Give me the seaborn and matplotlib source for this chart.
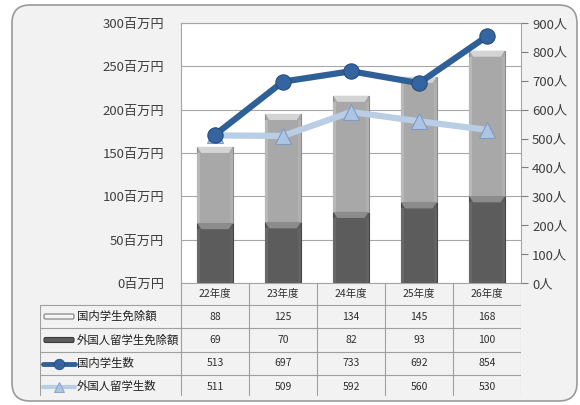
import numpy as np
import pandas as pd
import matplotlib
matplotlib.use("Agg")
import matplotlib.pyplot as plt
from matplotlib.patches import FancyBboxPatch, Polygon, Rectangle
from matplotlib.lines import Line2D
import seaborn as sns

sns.set_theme(style="white")
plt.rcParams["font.family"] = ["Noto Sans CJK JP", "DejaVu Sans"]

# ---- data ----
years = ["22年度", "23年度", "24年度", "25年度", "26年度"]
domestic_exempt = [88, 125, 134, 145, 168]      # 国内学生免除額 (百万円)
foreign_exempt = [69, 70, 82, 93, 100]          # 外国人留学生免除額 (百万円)
domestic_students = [513, 697, 733, 692, 854]   # 国内学生数 (人)
foreign_students = [511, 509, 592, 560, 530]    # 外国人留学生数 (人)

series_names = ["国内学生免除額", "外国人留学生免除額", "国内学生数", "外国人留学生数"]
series_values = [domestic_exempt, foreign_exempt, domestic_students, foreign_students]

LIGHT_BAR = "#a8a8a8"
DARK_BAR = "#5c5c5c"
DARK_LINE = "#2f5f97"
LIGHT_LINE = "#b9cde5"
GRID = "#a6a6a6"
TEXT = "#404040"

W, H = 580, 405
fig = plt.figure(figsize=(W / 100, H / 100), dpi=100)
fig.patch.set_facecolor("white")

# rounded chart frame
frame = FancyBboxPatch((12 / 100, 4 / 100), 565 / 100, 396 / 100,
                       boxstyle="round,pad=0,rounding_size=0.18",
                       transform=fig.dpi_scale_trans, facecolor="#f2f2f2",
                       edgecolor="#9a9a9a", linewidth=1.2, zorder=-5)
fig.patches.append(frame)

px_l, px_r, px_t, px_b = 181, 521, 23, 283
ax = fig.add_axes([px_l / W, 1 - px_b / H, (px_r - px_l) / W, (px_b - px_t) / H])
ax.set_facecolor("white")

df = pd.DataFrame({"year": years,
                   "domestic": domestic_exempt,
                   "foreign": foreign_exempt})

# lower segment: 外国人留学生免除額
sns.barplot(data=df, x="year", y="foreign", color=DARK_BAR, width=0.52,
            saturation=1, edgecolor="#464646", linewidth=0.8, ax=ax, zorder=2)
n_dark = len(ax.patches)
# upper segment: 国内学生免除額, stacked on top of the lower one
sns.barplot(data=df, x="year", y="domestic", color=LIGHT_BAR, width=0.52,
            saturation=1, edgecolor="#8c8c8c", linewidth=0.8, ax=ax, zorder=2)
for p, base in zip(ax.patches[n_dark:], foreign_exempt):
    p.set_y(base)

# bevelled top and soft side edges on every segment
unit_y = 300 / (px_b - px_t)
unit_x = 5 / (px_r - px_l)
for p in list(ax.patches):
    x0, w = p.get_x(), p.get_width()
    y0, h = p.get_y(), p.get_height()
    top = y0 + h
    light = p.get_facecolor()[0] > 0.5
    cap_col = "#d4d4d4" if light else "#8c8c8c"
    side_col = "#b8b8b8" if light else "#686868"
    ch = 6 * unit_y
    ins = 4 * unit_x
    ax.add_patch(Polygon([(x0, top), (x0 + w, top), (x0 + w - ins, top - ch),
                          (x0 + ins, top - ch)], closed=True,
                         facecolor=cap_col, edgecolor="none", zorder=3))
    ax.add_patch(Rectangle((x0, y0), ins * 0.7, h - ch,
                           facecolor=side_col, edgecolor="none", zorder=3))
    ax.add_patch(Rectangle((x0 + w - ins * 0.7, y0), ins * 0.7, h - ch,
                           facecolor=side_col, edgecolor="none", zorder=3,
                           alpha=0.5))

ax.set_xlim(-0.5, 4.5)
ax.set_ylim(0, 300)
ax.set_yticks(range(0, 301, 50))
ax.set_yticklabels([f"{v}百万円" for v in range(0, 301, 50)], fontsize=9.5, color=TEXT)
ax.set_xticks([])
ax.set_xlabel("")
ax.set_ylabel("")
ax.tick_params(axis="y", length=0, pad=12)
ax.yaxis.grid(True, color=GRID, linewidth=0.8)
ax.set_axisbelow(True)
for s in ax.spines.values():
    s.set_color(GRID)
    s.set_linewidth(0.8)

ax2 = ax.twinx()
ax2.set_ylim(0, 900)
ax2.set_yticks(range(0, 901, 100))
ax2.set_yticklabels([f"{v}人" for v in range(0, 901, 100)], fontsize=9.5, color=TEXT)
ax2.tick_params(axis="y", length=5, width=0.8, color="#808080", pad=3)
for s in ax2.spines.values():
    s.set_visible(False)
ax2.grid(False)

xs = np.arange(len(years))
ax2.plot(xs, foreign_students, color=LIGHT_LINE, linewidth=4.5, marker="^",
         markersize=11, markerfacecolor="#adc4e3", markeredgecolor="#7e9cc6",
         markeredgewidth=0.8, zorder=4, solid_capstyle="round")
ax2.plot(xs, domestic_students, color=DARK_LINE, linewidth=4.5, marker="o",
         markersize=11, markerfacecolor="#3565a0", markeredgecolor="#254d7e",
         markeredgewidth=0.8, zorder=5, solid_capstyle="round")

# ---- data table ----
tab_l, tab_t, tab_b = 40, 283, 398
tax = fig.add_axes([tab_l / W, 1 - tab_b / H, (px_r - tab_l) / W, (tab_b - tab_t) / H])
tax.set_xlim(tab_l, px_r)
tax.set_ylim(tab_b, tab_t)
tax.axis("off")

row_edges = [283, 305, 328, 352, 375, 398]
col_w = (px_r - px_l) / len(years)
line_kw = dict(color="#a0a0a0", linewidth=0.8)

# horizontal rules
for y in row_edges[1:-1]:
    tax.plot([tab_l, px_r], [y, y], **line_kw)
# vertical rules
tax.plot([tab_l, tab_l], [row_edges[1], tab_b - 3], **line_kw)
for i in range(len(years) + 1):
    xv = px_l + i * col_w
    tax.plot([xv, xv], [tab_t, tab_b - 3], **line_kw)

for i, yr in enumerate(years):
    tax.text(px_l + (i + 0.5) * col_w, (row_edges[0] + row_edges[1]) / 2, yr,
             ha="center", va="center", fontsize=7.5, color="#303030")

for r, (name, vals) in enumerate(zip(series_names, series_values)):
    yc = (row_edges[r + 1] + row_edges[r + 2]) / 2
    for i, v in enumerate(vals):
        tax.text(px_l + (i + 0.5) * col_w, yc, str(v), ha="center", va="center",
                 fontsize=7.5, color="#303030")
    tax.text(77, yc, name, ha="left", va="center", fontsize=8.2, color="#202020")

# legend keys in the first column
def key_bar(yc, face, edge):
    tax.add_patch(FancyBboxPatch((44, yc - 2.5), 30, 5,
                                 boxstyle="round,pad=0,rounding_size=1.5",
                                 facecolor=face, edgecolor=edge, linewidth=0.8))

y_rows = [(row_edges[k] + row_edges[k + 1]) / 2 for k in range(1, 5)]
key_bar(y_rows[0], "#f4f4f4", "#7a7a7a")
key_bar(y_rows[1], "#5c5c5c", "#3a3a3a")
tax.add_line(Line2D([43, 75], [y_rows[2]] * 2, color=DARK_LINE, linewidth=3.5))
tax.plot([59], [y_rows[2]], marker="o", markersize=7.5, color="#3565a0",
         markeredgecolor="#254d7e", markeredgewidth=0.6)
tax.add_line(Line2D([43, 75], [y_rows[3]] * 2, color=LIGHT_LINE, linewidth=3))
tax.plot([59], [y_rows[3]], marker="^", markersize=7, color="#adc4e3",
         markeredgecolor="#7e9cc6", markeredgewidth=0.6)

fig.savefig("out.png", dpi=100, facecolor=fig.get_facecolor())
